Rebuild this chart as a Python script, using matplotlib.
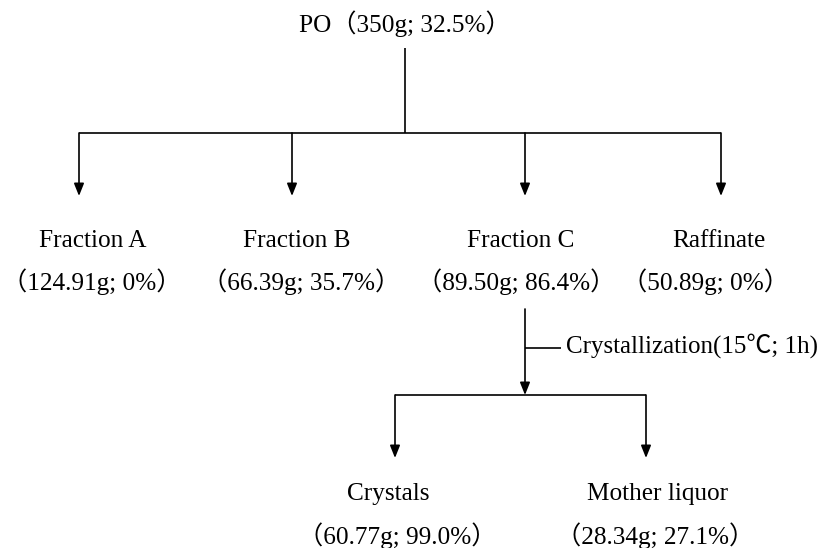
import matplotlib
matplotlib.use("Agg")
import matplotlib.pyplot as plt

# Data
root_label = "PO（350g; 32.5%）"
fraction_names = ["Fraction A", "Fraction B", "Fraction C", "Raffinate"]
fraction_values = ["（124.91g; 0%）", "（66.39g; 35.7%）", "（89.50g; 86.4%）", "（50.89g; 0%）"]
step_label = "Crystallization(15℃; 1h)"
product_names = ["Crystals", "Mother liquor"]
product_values = ["（60.77g; 99.0%）", "（28.34g; 27.1%）"]

# Layout (pixel coordinates)
W, H = 821, 548
root_x = 405
fx = [79, 292, 525, 721]
fname_x = [93, 297, 521, 719]
fval_x = [92, 301, 516, 705]
px = [395, 646]
pname_x = [388, 658]
pval_x = [397, 655]
FAM = ["Liberation Serif", "Noto Sans CJK SC", "DejaVu Sans"]
FS = 18.2

fig = plt.figure(figsize=(W / 100, H / 100), dpi=100)
ax = fig.add_axes([0, 0, 1, 1])
ax.set_xlim(0, W)
ax.set_ylim(H, 0)
ax.axis("off")

lw = 1.2
kw = dict(color="black", lw=lw, solid_capstyle="butt")


def arrow(x, y0, y1):
    ax.annotate("", xy=(x, y1), xytext=(x, y0),
                arrowprops=dict(arrowstyle="-|>,head_length=0.75,head_width=0.3",
                                color="black", lw=lw, shrinkA=0, shrinkB=0))


def txt(x, y, s, ha="center", fs=FS):
    ax.text(x, y, s, ha=ha, va="baseline", fontsize=fs, family=FAM, color="black")


# root
txt(root_x, 32, root_label)
ax.plot([root_x, root_x], [48, 133], **kw)
ax.plot([fx[0], fx[-1]], [133, 133], **kw)
for x in fx:
    arrow(x, 133, 196)

for xn, xv, n, v in zip(fname_x, fval_x, fraction_names, fraction_values):
    txt(xn, 247, n)
    txt(xv, 290, v)

# crystallization step
cx = fx[2]
arrow(cx, 309, 395)
ax.plot([cx, 561], [348, 348], **kw)
txt(566, 353, step_label, ha="left", fs=18.0)
ax.plot([px[0], px[1]], [395, 395], **kw)
for x in px:
    arrow(x, 395, 458)

for xn, xv, n, v in zip(pname_x, pval_x, product_names, product_values):
    txt(xn, 500, n)
    txt(xv, 544, v)

fig.savefig("out.png", dpi=100)
